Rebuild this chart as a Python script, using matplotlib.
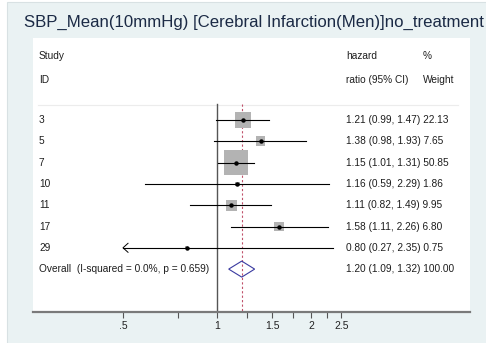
import matplotlib
matplotlib.use("Agg")
import matplotlib.pyplot as plt
import matplotlib.patches as patches
import matplotlib.transforms as mtransforms
import numpy as np

plt.rcParams['font.family'] = ['Liberation Sans', 'DejaVu Sans']

# data
title = "SBP_Mean(10mmHg) [Cerebral Infarction(Men)]no_treatment"
study_ids = ["3", "5", "7", "10", "11", "17", "29"]
hr = np.array([1.21, 1.38, 1.15, 1.16, 1.11, 1.58, 0.80])
ci_lo = np.array([0.99, 0.98, 1.01, 0.59, 0.82, 1.11, 0.27])
ci_hi = np.array([1.47, 1.93, 1.31, 2.29, 1.49, 2.26, 2.35])
weight = np.array([22.13, 7.65, 50.85, 1.86, 9.95, 6.80, 0.75])
overall_hr, overall_lo, overall_hi = 1.20, 1.09, 1.32
overall_label = "Overall  (I-squared = 0.0%, p = 0.659)"
tick_vals = [0.5, 0.75, 1, 1.25, 1.5, 1.75, 2, 2.25, 2.5]
tick_labels = [".5", "", "1", "", "1.5", "", "2", "", "2.5"]

W, H = 486, 343
fig = plt.figure(figsize=(W / 100, H / 100), dpi=100)
fig.patch.set_facecolor('white')
fig.add_artist(patches.Rectangle((7 / W, -0.01), 1, 1 - 2 / H + 0.01, transform=fig.transFigure,
                                 facecolor='#EAF2F3', edgecolor='#D8E1E3', lw=0.8, zorder=0))

# panel: x 33..470 px, y 38..312 px
ax = fig.add_axes([33 / W, 1 - 312 / H, 437 / W, 274 / H])
ax.set_facecolor('white')
ax.set_xscale('log')
px_per_log = 135.6
ax.set_xlim(np.exp((33 - 217) / px_per_log), np.exp((470 - 217) / px_per_log))
ax.set_ylim(312, 38)
for s in ['top', 'left', 'right']:
    ax.spines[s].set_visible(False)
ax.spines['bottom'].set_color('#7a7a7a')
ax.spines['bottom'].set_linewidth(1.6)
ax.set_yticks([])
ax.minorticks_off()
ax.set_xticks(tick_vals)
ax.set_xticklabels(tick_labels)
ax.tick_params(axis='x', which='major', length=4.5, width=0.8, color='#555555',
               labelsize=7.5, labelcolor='#222222', pad=2)

tc = '#1e1e1e'
fs = 7.3
bt = mtransforms.blended_transform_factory(ax.transAxes, ax.transData)
col0 = (39 - 33) / 437
col1 = (346 - 33) / 437
col2 = (423 - 33) / 437

# headers
ax.text(col0, 56, "Study", transform=bt, fontsize=fs, color=tc, va='center')
ax.text(col0, 80, "ID", transform=bt, fontsize=fs, color=tc, va='center')
ax.text(col1, 56, "hazard", transform=bt, fontsize=fs, color=tc, va='center')
ax.text(col1, 80, "ratio (95% CI)", transform=bt, fontsize=fs, color=tc, va='center')
ax.text(col2, 56, "%", transform=bt, fontsize=fs, color=tc, va='center')
ax.text(col2, 80, "Weight", transform=bt, fontsize=fs, color=tc, va='center')
ax.plot([(38 - 33) / 437, (458 - 33) / 437], [105, 105], transform=bt, color='#ececec', lw=0.8)

row_y = 120 + 21.3 * np.arange(len(study_ids))
overall_y = 120 + 21.3 * len(study_ids)

# reference lines
ax.plot([1, 1], [104, 312], color='#555555', lw=1.0, zorder=2)
ax.plot([overall_hr, overall_hr], [104, 312], color='#c0506a', lw=0.8, dashes=(2, 2), zorder=2)

# boxes, CIs, points
xmin_clip = tick_vals[0]
ax.scatter(hr, row_y, s=6.3 * weight, marker='s', color='#b3b3b3', edgecolors='none', zorder=3)
lo_draw = np.maximum(ci_lo, xmin_clip)
for i in range(len(study_ids)):
    ax.plot([lo_draw[i], ci_hi[i]], [row_y[i], row_y[i]], color='black', lw=0.8, zorder=4)
    if ci_lo[i] < xmin_clip:
        arm = xmin_clip * np.exp(5 / px_per_log)
        ax.plot([arm, xmin_clip, arm], [row_y[i] - 4.5, row_y[i], row_y[i] + 4.5],
                color='black', lw=0.7, zorder=4)
ax.plot(hr, row_y, 'o', color='black', ms=2.2, zorder=5)

for i, sid in enumerate(study_ids):
    ax.text(col0, row_y[i], sid, transform=bt, fontsize=fs, color=tc, va='center')
    ax.text(col1, row_y[i], f"{hr[i]:.2f} ({ci_lo[i]:.2f}, {ci_hi[i]:.2f}) {weight[i]:.2f}",
            transform=bt, fontsize=fs, color=tc, va='center')

# overall diamond
dia = patches.Polygon([[overall_lo, overall_y], [overall_hr, overall_y - 8],
                       [overall_hi, overall_y], [overall_hr, overall_y + 8]],
                      closed=True, fill=False, edgecolor='#3a3aa0', lw=0.8, zorder=5)
ax.add_patch(dia)
ax.text(col0, overall_y, overall_label, transform=bt, fontsize=fs, color=tc, va='center')
ax.text(col1, overall_y, f"{overall_hr:.2f} ({overall_lo:.2f}, {overall_hi:.2f}) {100:.2f}",
        transform=bt, fontsize=fs, color=tc, va='center')

fig.text(24 / W, 1 - 22 / H, title, fontsize=12.1, color='#1b2a45', va='center', ha='left')

fig.savefig("out.png", dpi=100)
